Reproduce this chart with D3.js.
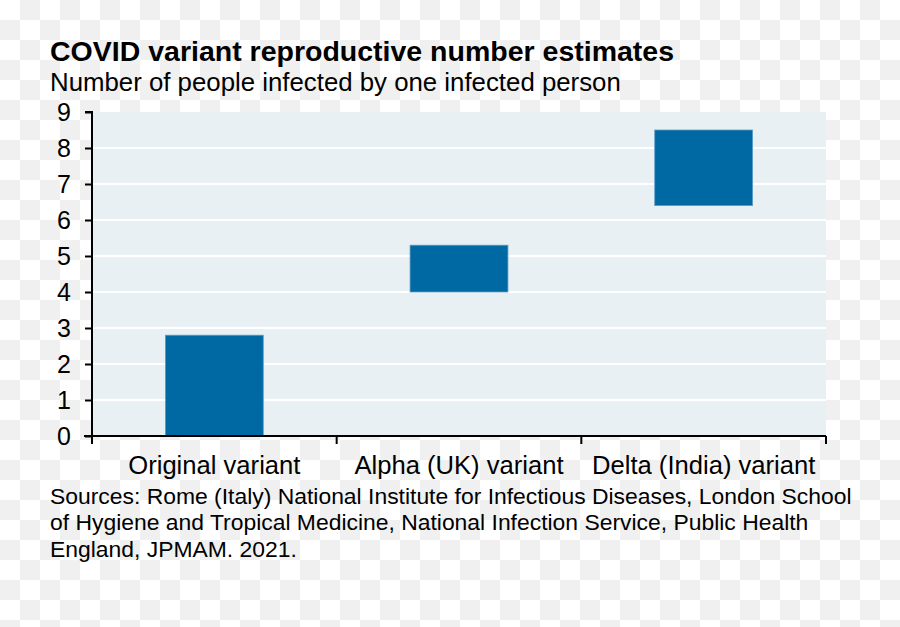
<!DOCTYPE html>
<html>
<head>
<meta charset="utf-8">
<script src="https://cdn.jsdelivr.net/npm/d3@7"></script>
<style>
  html, body { margin: 0; padding: 0; background: #fff; }
  svg { display: block; font-family: "Liberation Sans", Arial, sans-serif; }
</style>
</head>
<body>
<svg id="chart" width="900" height="627"></svg>
<script>
const categories = ["Original variant", "Alpha (UK) variant", "Delta (India) variant"];
const lowValues = [0, 4.0, 6.4];
const highValues = [2.8, 5.3, 8.5];
const yTicks = [0, 1, 2, 3, 4, 5, 6, 7, 8, 9];
const titleText = "COVID variant reproductive number estimates";
const subtitleText = "Number of people infected by one infected person";
const sourceLines = [
  "Sources: Rome (Italy) National Institute for Infectious Diseases, London School",
  "of Hygiene and Tropical Medicine, National Infection Service, Public Health",
  "England, JPMAM. 2021."
];

(function () {
const svg = d3.select("#chart");
const W = 900, H = 627;

// checkerboard background
const defs = svg.append("defs");
const pat = defs.append("pattern").attr("id", "checker")
  .attr("width", 40).attr("height", 40).attr("patternUnits", "userSpaceOnUse");
pat.append("rect").attr("width", 40).attr("height", 40).attr("fill", "#ffffff");
pat.append("rect").attr("x", 20).attr("y", 0).attr("width", 20).attr("height", 20).attr("fill", "#f0f0f0");
pat.append("rect").attr("x", 0).attr("y", 20).attr("width", 20).attr("height", 20).attr("fill", "#f0f0f0");
svg.append("rect").attr("width", W).attr("height", H).attr("fill", "url(#checker)");

const pL = 92, pR = 826, pT = 112, pB = 436;

const x = d3.scaleBand().domain(categories).range([pL, pR]).paddingInner(0).paddingOuter(0);
const y = d3.scaleLinear().domain([0, 9]).range([pB, pT]);

// plot background
svg.append("rect").attr("x", pL).attr("y", pT)
  .attr("width", pR - pL).attr("height", pB - pT)
  .attr("fill", "#e8f0f3");

// gridlines
svg.append("g").selectAll("line").data(yTicks.filter(d => d > 0 && d < 9)).join("line")
  .attr("x1", pL).attr("x2", pR)
  .attr("y1", d => y(d)).attr("y2", d => y(d))
  .attr("stroke", "#ffffff").attr("stroke-width", 2);

// bars
const barW = x.bandwidth() * 0.4;
svg.append("g").selectAll("rect").data(categories).join("rect")
  .attr("x", d => x(d) + (x.bandwidth() - barW) / 2)
  .attr("y", (d, i) => y(highValues[i]))
  .attr("width", barW)
  .attr("height", (d, i) => y(lowValues[i]) - y(highValues[i]))
  .attr("fill", "#0068a3")
  .attr("stroke", "#5b9cc6").attr("stroke-width", 0.8);

// y axis
const yAxis = svg.append("g").attr("transform", `translate(${pL},0)`)
  .call(d3.axisLeft(y).tickValues(yTicks).tickSize(7).tickPadding(14).tickFormat(d3.format("d")));
yAxis.select(".domain").attr("stroke", "#000").attr("stroke-width", 2).attr("d", `M-7,${pT}H0V${pB}`);
yAxis.selectAll(".tick line").attr("stroke", "#000").attr("stroke-width", 2);
yAxis.selectAll(".tick text").attr("font-size", 25).attr("fill", "#000")
  .attr("font-family", "Liberation Sans, Arial, sans-serif");

// x axis
const xAxis = svg.append("g").attr("transform", `translate(0,${pB})`)
  .call(d3.axisBottom(x).tickSize(0).tickPadding(20));
xAxis.select(".domain").attr("stroke", "#000").attr("stroke-width", 2)
  .attr("d", `M${pL - 8},0H${pR}`);
xAxis.selectAll(".tick text").attr("font-size", 25.6).attr("fill", "#000")
  .attr("font-family", "Liberation Sans, Arial, sans-serif");
// boundary ticks between categories
const bounds = categories.map(d => x(d)).concat([pR]);
xAxis.append("g").selectAll("line").data(bounds).join("line")
  .attr("x1", d => d).attr("x2", d => d).attr("y1", 0).attr("y2", 8)
  .attr("stroke", "#000").attr("stroke-width", 2);

// titles
svg.append("text").attr("x", 50).attr("y", 61)
  .attr("font-size", 28.5).attr("font-weight", "bold").attr("fill", "#000").text(titleText);
svg.append("text").attr("x", 50).attr("y", 91)
  .attr("font-size", 25.8).attr("fill", "#000").text(subtitleText);

// sources
svg.append("g").selectAll("text").data(sourceLines).join("text")
  .attr("x", 50).attr("y", (d, i) => 504 + i * 26.3)
  .attr("font-size", 22.9).attr("fill", "#000").text(d => d);
})();
</script>
</body>
</html>
